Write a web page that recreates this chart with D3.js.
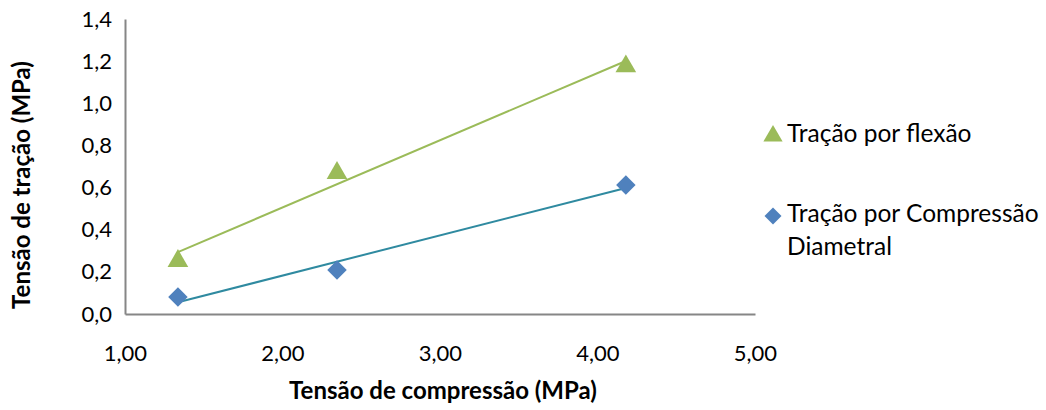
<!DOCTYPE html>
<html>
<head>
<meta charset="utf-8">
<script src="https://cdn.jsdelivr.net/npm/d3@7"></script>
<style>
  html, body { margin: 0; padding: 0; background: #fff; }
  svg { display: block; font-family: Lato, "Open Sans", sans-serif; }
</style>
</head>
<body>
<svg id="chart" width="1046" height="410"></svg>
<script>
// Compressive strength (MPa) on the x axis
const compressao = [1.336, 2.346, 4.18];
// Flexural tensile strength (MPa)
const flexao = [0.256, 0.674, 1.18];
// Splitting (diametral compression) tensile strength (MPa)
const diametral = [0.081, 0.209, 0.612];

const xTicks = [1, 2, 3, 4, 5];
const yTicks = [0, 0.2, 0.4, 0.6, 0.8, 1.0, 1.2, 1.4];

const serieFlexao = "Tração por flexão";
const serieDiametral = ["Tração por Compressão", "Diametral"];
const xTitle = "Tensão de compressão (MPa)";
const yTitle = "Tensão de tração (MPa)";

const svg = d3.select("#chart");
const plot = { left: 125, right: 755, top: 19, bottom: 314 };

const x = d3.scaleLinear().domain([1, 5]).range([plot.left, plot.right]);
const y = d3.scaleLinear().domain([0, 1.4]).range([plot.bottom, plot.top]);

const fmt = (d, n) => d.toFixed(n).replace(".", ",");

// Axes
const xAxis = svg.append("g")
  .attr("transform", `translate(0,${plot.bottom})`)
  .call(d3.axisBottom(x).tickValues(xTicks).tickSize(0).tickPadding(31).tickFormat(d => fmt(d, 2)));
const yAxis = svg.append("g")
  .attr("transform", `translate(${plot.left},0)`)
  .call(d3.axisLeft(y).tickValues(yTicks).tickSize(0).tickPadding(13).tickFormat(d => fmt(d, 1)));

[xAxis, yAxis].forEach(g => {
  g.select(".domain").attr("stroke", "#868686").attr("stroke-width", 2);
  g.selectAll("text").attr("font-size", 22).attr("fill", "#000")
    .attr("font-family", "Lato, 'Open Sans', sans-serif");
});

// Least-squares trend line
function trend(xs, ys) {
  const mx = d3.mean(xs), my = d3.mean(ys);
  const sxy = d3.sum(xs, (v, i) => (v - mx) * (ys[i] - my));
  const sxx = d3.sum(xs, v => (v - mx) * (v - mx));
  const b = sxy / sxx, a = my - b * mx;
  const x0 = d3.min(xs), x1 = d3.max(xs);
  return [[x0, a + b * x0], [x1, a + b * x1]];
}

const line = d3.line().x(d => x(d[0])).y(d => y(d[1]));

svg.append("path").datum(trend(compressao, flexao))
  .attr("d", line).attr("fill", "none").attr("stroke", "#9bbb59").attr("stroke-width", 2);
svg.append("path").datum(trend(compressao, diametral))
  .attr("d", line).attr("fill", "none").attr("stroke", "#2f8aa0").attr("stroke-width", 2);

const triangle = d3.symbol().type(d3.symbolTriangle).size(185);
const diamond = d3.symbol().type(d3.symbolSquare).size(190);

svg.append("g").selectAll("path")
  .data(compressao.map((c, i) => [c, flexao[i]]))
  .join("path")
  .attr("d", triangle)
  .attr("transform", d => `translate(${x(d[0])},${y(d[1]) + 1})`)
  .attr("fill", "#9bbb59");

svg.append("g").selectAll("path")
  .data(compressao.map((c, i) => [c, diametral[i]]))
  .join("path")
  .attr("d", diamond)
  .attr("transform", d => `translate(${x(d[0])},${y(d[1])}) rotate(45)`)
  .attr("fill", "#4f81bd");

// Legend
const legend = svg.append("g").attr("font-size", 24.5).attr("fill", "#000");
legend.append("path").attr("d", d3.symbol().type(d3.symbolTriangle).size(160))
  .attr("transform", "translate(773,136)").attr("fill", "#9bbb59");
legend.append("text").attr("x", 787).attr("y", 142).text(serieFlexao);

legend.append("path").attr("d", d3.symbol().type(d3.symbolSquare).size(145))
  .attr("transform", "translate(773,216) rotate(45)").attr("fill", "#4f81bd");
legend.append("text").attr("x", 787).attr("y", 222).text(serieDiametral[0]);
legend.append("text").attr("x", 787).attr("y", 255).text(serieDiametral[1]);

// Axis titles
svg.append("text")
  .attr("x", 443).attr("y", 399)
  .attr("text-anchor", "middle").attr("font-weight", "bold").attr("font-size", 24)
  .text(xTitle);
svg.append("text")
  .attr("transform", "translate(30,185) rotate(-90)")
  .attr("text-anchor", "middle").attr("font-weight", "bold").attr("font-size", 24)
  .text(yTitle);
</script>
</body>
</html>
